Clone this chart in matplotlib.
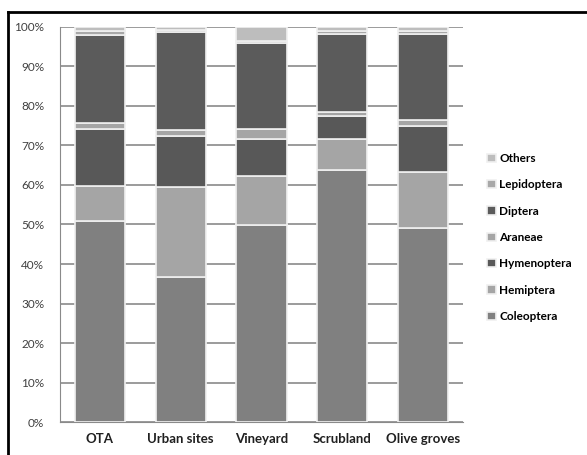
import matplotlib.pyplot as plt
import numpy as np
from matplotlib.lines import Line2D

sites = ["OTA", "Urban sites", "Vineyard", "Scrubland", "Olive groves"]
orders = ["Coleoptera", "Hemiptera", "Hymenoptera", "Araneae", "Diptera", "Lepidoptera", "Others"]

# percentage of each order per site (bottom to top)
coleoptera = [50.8, 36.6, 49.9, 63.8, 49.0]
hemiptera = [9.0, 23.0, 12.4, 7.8, 14.2]
hymenoptera = [14.4, 12.9, 9.4, 5.9, 11.7]
araneae = [1.6, 1.4, 2.5, 1.1, 1.6]
diptera = [22.2, 24.8, 21.8, 19.6, 21.7]
lepidoptera = [1.0, 0.6, 0.5, 0.9, 0.9]
others = [1.0, 0.7, 3.5, 0.9, 0.9]

colors = ["#808080", "#a5a5a5", "#585858", "#a5a5a5", "#5b5b5b", "#a8a8a8", "#bdbdbd"]

plt.rcParams['font.family'] = ['Lato', 'DejaVu Sans']

fig = plt.figure(figsize=(5.87, 4.55), dpi=100)
ax = fig.add_axes([0.1015, 0.0725, 0.688, 0.8682])

series = [coleoptera, hemiptera, hymenoptera, araneae, diptera, lepidoptera, others]
x = np.arange(len(sites))
bottom = np.zeros(len(sites))
handles = []
for name, vals, col in zip(orders, series, colors):
    b = ax.bar(x, vals, 0.62, bottom=bottom, color=col, edgecolor="#f0f0f0",
               linewidth=1.2, zorder=3, label=name)
    bottom += np.array(vals)
    handles.append(b)

ax.set_xlim(-0.5, len(sites) - 0.5)
ax.set_ylim(0, 100)
ax.set_yticks(np.arange(0, 101, 10))
ax.set_yticklabels([f"{v}%" for v in range(0, 101, 10)], fontsize=8.5, color="#404040")
ax.set_xticks(x)
ax.set_xticklabels(sites, fontsize=9.5, fontweight="bold", color="#202020")
ax.tick_params(axis="x", length=0, pad=8)
ax.tick_params(axis="y", length=0, pad=11)
ax.yaxis.grid(True, color="#8a8a8a", linewidth=1.2, zorder=0)
for side in ["top", "right"]:
    ax.spines[side].set_visible(False)
ax.spines["left"].set_color("#8a8a8a")
ax.spines["bottom"].set_color("#8a8a8a")

leg = fig.legend(handles[::-1], orders[::-1], loc="center left",
                 bbox_to_anchor=(0.812, 0.478), frameon=False,
                 prop={"size": 8.5, "weight": "bold"}, handlelength=0.7,
                 handleheight=0.7, handletextpad=0.3, labelspacing=1.3)

# frame of the original chart area (left and top edges visible)
fig.add_artist(Line2D([0.013, 0.013], [0.0, 0.974], color="black", linewidth=2))
fig.add_artist(Line2D([0.013, 1.0], [0.974, 0.974], color="black", linewidth=2))

fig.savefig("out.png", dpi=100)
